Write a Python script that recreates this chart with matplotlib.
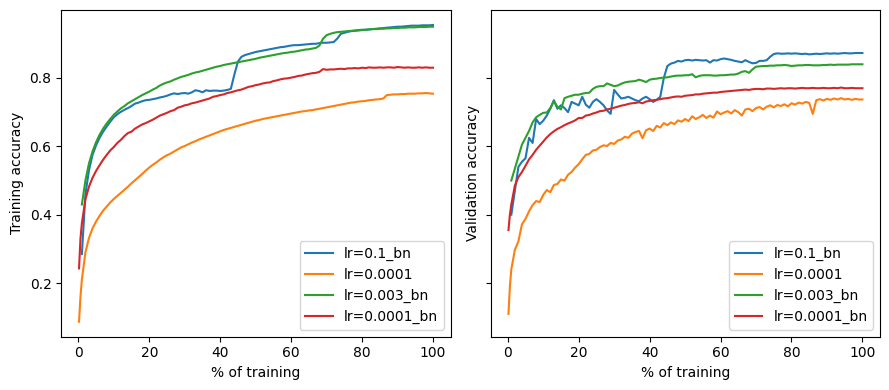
import numpy as np
import matplotlib
matplotlib.use("Agg")
import matplotlib.pyplot as plt

# x positions (% of training); bn runs logged once per %, the others a bit earlier too
pct = np.arange(1, 101)
pct_fine = np.concatenate([[0.2, 0.6], np.arange(1, 101)])

labels = ['lr=0.1_bn', 'lr=0.0001', 'lr=0.003_bn', 'lr=0.0001_bn']

# ---- training accuracy ----
train_lr01_bn = [
    0.285, 0.46, 0.53, 0.575, 0.603, 0.625, 0.643, 0.658, 0.672, 0.685,
    0.694, 0.701, 0.707, 0.712, 0.718, 0.725, 0.728, 0.732, 0.735, 0.736,
    0.738, 0.740, 0.743, 0.745, 0.748, 0.752, 0.755, 0.753, 0.755, 0.756,
    0.754, 0.758, 0.764, 0.762, 0.758, 0.764, 0.762, 0.763, 0.763, 0.762,
    0.763, 0.765, 0.768, 0.810, 0.848, 0.862, 0.867, 0.870, 0.873, 0.876,
    0.878, 0.880, 0.882, 0.884, 0.886, 0.888, 0.890, 0.891, 0.893, 0.895,
    0.896, 0.896, 0.897, 0.898, 0.899, 0.900, 0.900, 0.902, 0.903, 0.903,
    0.904, 0.905, 0.915, 0.929, 0.932, 0.935, 0.937, 0.938, 0.939, 0.940,
    0.941, 0.942, 0.943, 0.944, 0.945, 0.946, 0.947, 0.948, 0.949, 0.950,
    0.950, 0.951, 0.952, 0.953, 0.953, 0.953, 0.954, 0.954, 0.954, 0.955]

train_lr00001 = [
    0.087, 0.16,
    0.21, 0.29, 0.332, 0.36, 0.38, 0.397, 0.412, 0.424, 0.436, 0.446,
    0.455, 0.464, 0.473, 0.482, 0.492, 0.501, 0.510, 0.519, 0.529, 0.538,
    0.546, 0.553, 0.561, 0.568, 0.574, 0.579, 0.585, 0.591, 0.597, 0.601,
    0.606, 0.611, 0.615, 0.620, 0.624, 0.628, 0.632, 0.636, 0.640, 0.644,
    0.648, 0.651, 0.654, 0.657, 0.660, 0.663, 0.666, 0.669, 0.672, 0.675,
    0.677, 0.680, 0.682, 0.684, 0.686, 0.688, 0.690, 0.692, 0.694, 0.696,
    0.698, 0.700, 0.702, 0.703, 0.705, 0.706, 0.708, 0.710, 0.712, 0.714,
    0.716, 0.718, 0.720, 0.722, 0.724, 0.726, 0.728, 0.729, 0.731, 0.732,
    0.733, 0.735, 0.736, 0.737, 0.738, 0.740, 0.750, 0.751, 0.752, 0.752,
    0.753, 0.753, 0.754, 0.754, 0.754, 0.755, 0.755, 0.756, 0.755, 0.754]

train_lr0003_bn = [
    0.43, 0.50, 0.55, 0.585, 0.612, 0.634, 0.652, 0.667, 0.680, 0.692,
    0.702, 0.711, 0.718, 0.726, 0.732, 0.738, 0.744, 0.750, 0.755, 0.760,
    0.766, 0.771, 0.778, 0.783, 0.787, 0.790, 0.795, 0.799, 0.803, 0.806,
    0.809, 0.813, 0.816, 0.818, 0.821, 0.824, 0.827, 0.830, 0.833, 0.835,
    0.838, 0.840, 0.842, 0.844, 0.846, 0.848, 0.850, 0.852, 0.854, 0.856,
    0.859, 0.861, 0.863, 0.865, 0.867, 0.869, 0.871, 0.873, 0.874, 0.876,
    0.877, 0.879, 0.881, 0.883, 0.884, 0.886, 0.888, 0.895, 0.915, 0.925,
    0.929, 0.932, 0.934, 0.935, 0.936, 0.937, 0.938, 0.939, 0.940, 0.941,
    0.941, 0.942, 0.943, 0.943, 0.944, 0.944, 0.945, 0.945, 0.946, 0.946,
    0.947, 0.947, 0.948, 0.948, 0.948, 0.949, 0.949, 0.949, 0.950, 0.950]

train_lr00001_bn = [
    0.243, 0.33,
    0.375, 0.445, 0.482, 0.508, 0.528, 0.545, 0.561, 0.575, 0.588, 0.598,
    0.610, 0.619, 0.630, 0.639, 0.643, 0.652, 0.658, 0.664, 0.668, 0.673,
    0.678, 0.684, 0.690, 0.694, 0.698, 0.703, 0.706, 0.713, 0.716, 0.720,
    0.722, 0.726, 0.728, 0.731, 0.734, 0.737, 0.740, 0.745, 0.747, 0.750,
    0.752, 0.756, 0.758, 0.761, 0.764, 0.766, 0.770, 0.774, 0.776, 0.779,
    0.781, 0.784, 0.786, 0.787, 0.791, 0.793, 0.796, 0.798, 0.799, 0.801,
    0.803, 0.806, 0.807, 0.810, 0.812, 0.814, 0.815, 0.818, 0.826, 0.824,
    0.825, 0.825, 0.826, 0.827, 0.826, 0.828, 0.828, 0.829, 0.828, 0.830,
    0.829, 0.831, 0.830, 0.830, 0.831, 0.830, 0.831, 0.831, 0.830, 0.832,
    0.831, 0.830, 0.831, 0.830, 0.830, 0.831, 0.830, 0.831, 0.830, 0.830]

# ---- validation accuracy ----
val_lr01_bn = [
    0.40, 0.47, 0.54, 0.555, 0.565, 0.625, 0.61, 0.68, 0.665, 0.675,
    0.69, 0.71, 0.735, 0.71, 0.72, 0.712, 0.70, 0.73, 0.725, 0.72,
    0.745, 0.722, 0.713, 0.73, 0.738, 0.73, 0.72, 0.705, 0.695, 0.765,
    0.752, 0.74, 0.742, 0.745, 0.74, 0.735, 0.732, 0.74, 0.745, 0.738,
    0.73, 0.736, 0.745, 0.80, 0.835, 0.842, 0.845, 0.85, 0.848, 0.852,
    0.853, 0.851, 0.853, 0.852, 0.851, 0.852, 0.845, 0.852, 0.851, 0.855,
    0.857, 0.855, 0.853, 0.85, 0.848, 0.846, 0.852, 0.847, 0.843, 0.844,
    0.85, 0.85, 0.852, 0.862, 0.870, 0.872, 0.871, 0.871, 0.872, 0.871,
    0.872, 0.871, 0.870, 0.871, 0.869, 0.870, 0.871, 0.870, 0.871, 0.872,
    0.871, 0.872, 0.871, 0.872, 0.873, 0.872, 0.872, 0.873, 0.873, 0.873]

val_lr00001 = [
    0.11, 0.19,
    0.24, 0.297, 0.322, 0.372, 0.388, 0.41, 0.428, 0.44, 0.437, 0.458,
    0.472, 0.466, 0.487, 0.49, 0.503, 0.50, 0.517, 0.525, 0.538, 0.548,
    0.562, 0.575, 0.578, 0.588, 0.59, 0.598, 0.603, 0.601, 0.61, 0.607,
    0.617, 0.62, 0.628, 0.625, 0.637, 0.642, 0.645, 0.624, 0.647, 0.652,
    0.645, 0.66, 0.655, 0.668, 0.662, 0.67, 0.665, 0.676, 0.672, 0.68,
    0.674, 0.688, 0.68, 0.685, 0.692, 0.683, 0.69, 0.684, 0.702, 0.694,
    0.699, 0.703, 0.696, 0.706, 0.70, 0.69, 0.708, 0.71, 0.703, 0.712,
    0.715, 0.708, 0.716, 0.72, 0.714, 0.721, 0.718, 0.723, 0.717, 0.726,
    0.722, 0.728, 0.725, 0.73, 0.727, 0.695, 0.735, 0.738, 0.734, 0.739,
    0.736, 0.74, 0.737, 0.741, 0.737, 0.739, 0.736, 0.739, 0.737, 0.737]

val_lr0003_bn = [
    0.50, 0.535, 0.57, 0.605, 0.625, 0.645, 0.67, 0.685, 0.692, 0.698,
    0.699, 0.712, 0.732, 0.716, 0.708, 0.741, 0.745, 0.748, 0.751, 0.751,
    0.754, 0.756, 0.757, 0.768, 0.774, 0.776, 0.776, 0.784, 0.78, 0.776,
    0.778, 0.783, 0.787, 0.789, 0.790, 0.791, 0.795, 0.792, 0.788, 0.795,
    0.797, 0.798, 0.800, 0.801, 0.802, 0.804, 0.806, 0.807, 0.807, 0.808,
    0.808, 0.811, 0.802, 0.806, 0.808, 0.808, 0.808, 0.807, 0.807, 0.808,
    0.808, 0.809, 0.81, 0.81, 0.813, 0.818, 0.82, 0.815, 0.825, 0.833,
    0.834, 0.835, 0.835, 0.836, 0.836, 0.837, 0.837, 0.838, 0.837, 0.835,
    0.836, 0.837, 0.837, 0.838, 0.838, 0.837, 0.837, 0.837, 0.838, 0.838,
    0.839, 0.838, 0.839, 0.839, 0.839, 0.839, 0.840, 0.840, 0.840, 0.840]

val_lr00001_bn = [
    0.355, 0.40,
    0.43, 0.485, 0.51, 0.525, 0.543, 0.562, 0.575, 0.59, 0.602, 0.614,
    0.626, 0.636, 0.644, 0.651, 0.656, 0.662, 0.667, 0.671, 0.676, 0.683,
    0.683, 0.690, 0.692, 0.696, 0.699, 0.703, 0.704, 0.708, 0.710, 0.713,
    0.716, 0.719, 0.721, 0.724, 0.726, 0.727, 0.729, 0.726, 0.731, 0.733,
    0.735, 0.736, 0.738, 0.74, 0.741, 0.743, 0.745, 0.746, 0.745, 0.748,
    0.749, 0.75, 0.752, 0.752, 0.754, 0.755, 0.756, 0.757, 0.757, 0.759,
    0.760, 0.761, 0.762, 0.763, 0.764, 0.765, 0.766, 0.765, 0.767, 0.768,
    0.768, 0.767, 0.769, 0.769, 0.768, 0.769, 0.770, 0.769, 0.770, 0.770,
    0.769, 0.770, 0.771, 0.770, 0.770, 0.771, 0.770, 0.770, 0.771, 0.770,
    0.770, 0.771, 0.770, 0.772, 0.770, 0.770, 0.771, 0.770, 0.770, 0.770]

fig, (ax1, ax2) = plt.subplots(1, 2, sharey=True, figsize=(8.89, 3.9), dpi=100)
fig.subplots_adjust(left=0.069, right=0.99, bottom=0.137, top=0.974, wspace=0.103)

ax1.plot(pct, train_lr01_bn, label=labels[0])
ax1.plot(pct_fine, train_lr00001, label=labels[1])
ax1.plot(pct, train_lr0003_bn, label=labels[2])
ax1.plot(pct_fine, train_lr00001_bn, label=labels[3])
ax1.set_xlabel('% of training')
ax1.set_ylabel('Training accuracy')
ax1.legend(loc='lower right')

ax2.plot(pct, val_lr01_bn, label=labels[0])
ax2.plot(pct_fine, val_lr00001, label=labels[1])
ax2.plot(pct, val_lr0003_bn, label=labels[2])
ax2.plot(pct_fine, val_lr00001_bn, label=labels[3])
ax2.set_xlabel('% of training')
ax2.set_ylabel('Validation accuracy')
ax2.legend(loc='lower right')

fig.savefig('out.png')
